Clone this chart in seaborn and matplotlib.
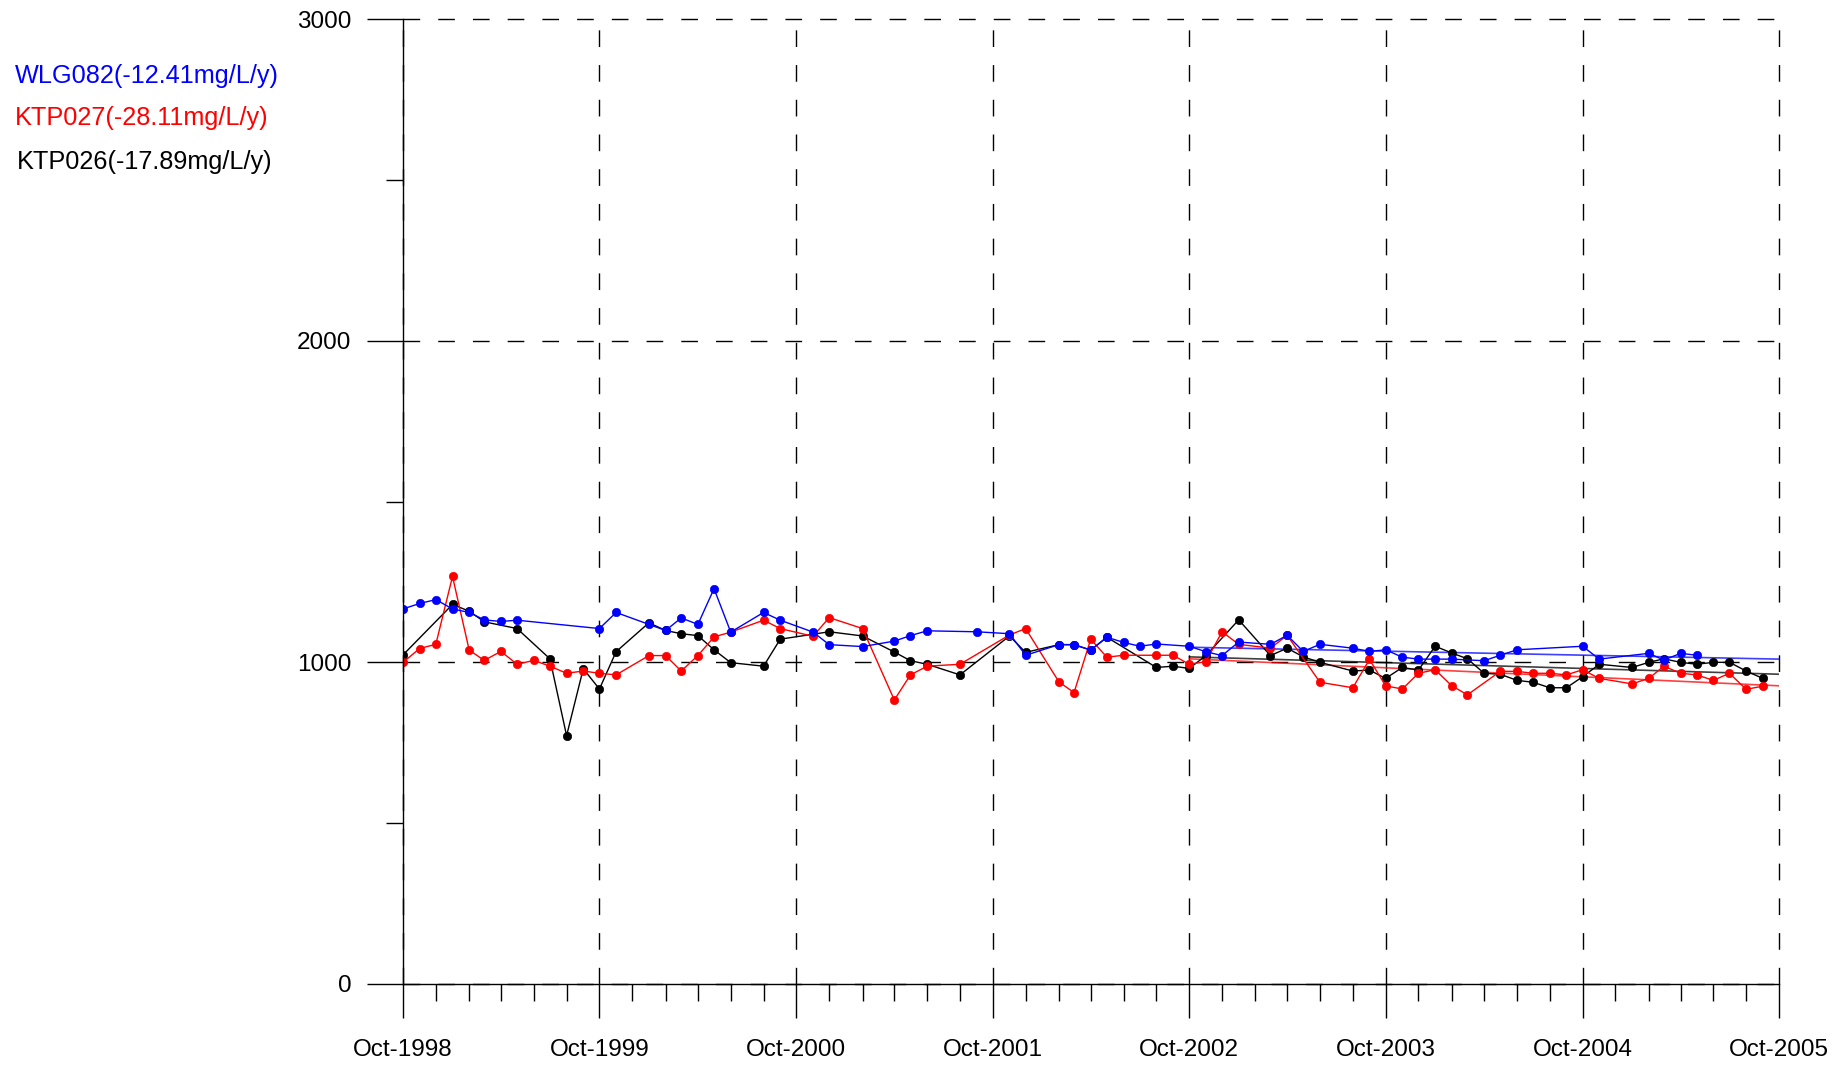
import matplotlib
matplotlib.use("Agg")
import matplotlib.pyplot as plt
import matplotlib.dates as mdates
import pandas as pd
import seaborn as sns

# months counted from Oct-1998
wlg082_months = [0, 1, 2, 3, 4, 5, 6, 7, 12, 13, 15, 16, 17, 18, 19, 20, 22, 23, 25, 26, 28, 30, 31, 32,
                 35, 37, 38, 40, 41, 42, 43, 44, 45, 46, 48, 49, 50, 51, 53, 54, 55, 56, 58, 59, 60, 61,
                 62, 63, 64, 66, 67, 68, 72, 73, 76, 77, 78, 79]
wlg082_values = [1166, 1183, 1195, 1166, 1155, 1132, 1127, 1131, 1105, 1155, 1118, 1099, 1138, 1118, 1229,
                 1094, 1155, 1131, 1094, 1055, 1049, 1066, 1083, 1098, 1095, 1089, 1022, 1055, 1055, 1038,
                 1078, 1062, 1050, 1057, 1050, 1033, 1021, 1063, 1056, 1084, 1034, 1056, 1044, 1034, 1039,
                 1016, 1010, 1010, 1010, 1005, 1022, 1039, 1050, 1010, 1028, 1007, 1028, 1022]

ktp027_months = [0, 1, 2, 3, 4, 5, 6, 7, 8, 9, 10, 11, 12, 13, 15, 16, 17, 18, 19, 20, 22, 23, 25, 26, 28,
                 30, 31, 32, 34, 37, 38, 40, 41, 42, 43, 44, 46, 47, 48, 49, 50, 51, 53, 54, 56, 58, 59,
                 60, 61, 62, 63, 64, 65, 67, 68, 69, 70, 71, 72, 73, 75, 76, 77, 78, 79, 80, 81, 82, 83]
ktp027_values = [1000, 1043, 1056, 1267, 1038, 1006, 1034, 994, 1006, 988, 966, 973, 966, 961, 1021, 1021,
                 973, 1021, 1079, 1094, 1131, 1105, 1081, 1139, 1105, 883, 961, 988, 994, 1085, 1105, 939,
                 906, 1072, 1016, 1022, 1022, 1022, 994, 1002, 1095, 1056, 1044, 1084, 938, 921, 1009, 927,
                 917, 966, 977, 927, 899, 972, 972, 966, 966, 961, 977, 950, 933, 950, 988, 966, 961, 944,
                 966, 916, 926]

ktp026_months = [0, 3, 4, 5, 7, 9, 10, 11, 12, 13, 15, 16, 17, 18, 19, 20, 22, 23, 26, 28, 30, 31, 32, 34,
                 37, 38, 40, 41, 42, 43, 46, 47, 48, 49, 51, 53, 54, 55, 56, 58, 59, 60, 61, 62, 63, 64,
                 65, 66, 67, 68, 69, 70, 71, 72, 73, 75, 76, 77, 78, 79, 80, 81, 82, 83]
ktp026_values = [1023, 1180, 1159, 1126, 1105, 1011, 772, 980, 917, 1033, 1123, 1099, 1089, 1083, 1039, 999,
                 988, 1072, 1095, 1082, 1032, 1005, 994, 961, 1082, 1031, 1055, 1055, 1038, 1078, 984, 988,
                 981, 1021, 1132, 1021, 1044, 1017, 1000, 973, 976, 950, 984, 976, 1050, 1029, 1011, 966,
                 963, 944, 938, 921, 921, 955, 994, 984, 1000, 1011, 1000, 994, 1000, 1000, 973, 950]

# linear trend lines, Oct-2002 to Oct-2005
trend_months = [48, 84]
wlg082_trend = [1047, 1010]
ktp027_trend = [1011, 927]
ktp026_trend = [1017, 963]

labels = ["WLG082(-12.41mg/L/y)", "KTP027(-28.11mg/L/y)", "KTP026(-17.89mg/L/y)"]
colors = ["#0000FF", "#FF0000", "#000000"]

start = pd.Timestamp("1998-10-01")


def to_dates(months):
    return [start + pd.DateOffset(months=m) for m in months]


sns.set_theme(style="ticks")
plt.rcParams["font.family"] = ["Liberation Sans", "DejaVu Sans"]

fig = plt.figure(figsize=(18.47, 10.65), dpi=100)
ax = fig.add_axes([403 / 1847, 1 - 984 / 1065, (1779 - 403) / 1847, (984 - 19) / 1065])

series = [
    (ktp026_months, ktp026_values, ktp026_trend, colors[2]),
    (ktp027_months, ktp027_values, ktp027_trend, colors[1]),
    (wlg082_months, wlg082_values, wlg082_trend, colors[0]),
]
for months, values, trend, c in series:
    sns.lineplot(x=to_dates(trend_months), y=trend, ax=ax, color=c, linewidth=1.2, alpha=0.75)
for months, values, trend, c in series:
    sns.lineplot(x=to_dates(months), y=values, ax=ax, color=c, linewidth=1, marker="o",
                 markersize=6, markeredgecolor=c, markeredgewidth=0.5)

ax.set_xlim(start, pd.Timestamp("2005-10-01"))
ax.set_ylim(0, 3000)
ax.xaxis.set_major_locator(mdates.MonthLocator(bymonth=10))
ax.xaxis.set_minor_locator(mdates.MonthLocator(bymonth=[2, 4, 6, 8, 12]))
ax.xaxis.set_major_formatter(mdates.DateFormatter("%b-%Y"))
ax.set_yticks([0, 1000, 2000, 3000])
ax.set_yticks([500, 1500, 2500], minor=True)

ax.tick_params(axis="both", which="both", colors="black", width=1, direction="out",
               labelsize=17.5, labelcolor="black")
ax.tick_params(axis="x", which="major", length=24.5, pad=15)
ax.tick_params(axis="x", which="minor", length=12)
ax.tick_params(axis="y", which="major", length=26, pad=11)
ax.tick_params(axis="y", which="minor", length=12)

ax.grid(True, which="major", color="black", linewidth=1, linestyle=(0, (12, 13)))
for gl in ax.get_xgridlines() + ax.get_ygridlines():
    gl.set_clip_on(False)
for side in ["top", "right"]:
    ax.spines[side].set_visible(False)
for side in ["left", "bottom"]:
    ax.spines[side].set_color("black")
    ax.spines[side].set_linewidth(1)
ax.set_xlabel("")
ax.set_ylabel("")

fig.text(15 / 1847, 1 - 83 / 1065, labels[0], color=colors[0], fontsize=18.2, va="baseline")
fig.text(15 / 1847, 1 - 125 / 1065, labels[1], color=colors[1], fontsize=18.2, va="baseline")
fig.text(17 / 1847, 1 - 169 / 1065, labels[2], color=colors[2], fontsize=18.2, va="baseline")

fig.savefig("out.png", dpi=100)
